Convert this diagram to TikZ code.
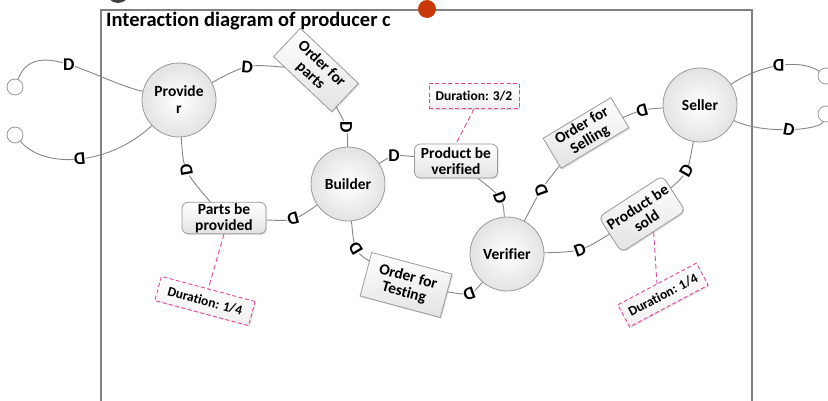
\documentclass[tikz,border=0pt]{standalone}
\usepackage{fontspec}
\setmainfont{Carlito}[Ligatures=NoCommon]
\usetikzlibrary{shadows}

\definecolor{linegray}{HTML}{858585}
\definecolor{framegray}{HTML}{808080}
\definecolor{edgegray}{HTML}{9A9A9A}
\definecolor{durpink}{HTML}{E4479A}
\definecolor{dotred}{HTML}{C83A0C}

\tikzset{
  conn/.style={draw=linegray, line width=0.9pt},
  actor/.style={circle, draw=edgegray, line width=0.8pt, inner color=white,
    outer color=gray!22, minimum size=74pt, inner sep=0pt, align=center,
    font=\fontsize{15.5}{17}\selectfont\bfseries},
  msgbox/.style={rectangle, draw=edgegray, line width=0.8pt, top color=white,
    bottom color=gray!22, inner sep=1pt, align=center,
    font=\fontsize{15.5}{16}\selectfont\bfseries,
    drop shadow={shadow xshift=1.2pt, shadow yshift=-1.2pt, opacity=0.25}},
  statebox/.style={msgbox, rounded corners=6pt},
  durbox/.style={rectangle, draw=durpink, dash pattern=on 4pt off 2.5pt, line width=0.9pt,
    top color=white, bottom color=gray!12, inner sep=1pt, minimum height=25pt,
    font=\fontsize{13.5}{14}\selectfont\bfseries,
    drop shadow={shadow xshift=1.2pt, shadow yshift=-1.2pt, opacity=0.25}},
  durlink/.style={draw=durpink, dash pattern=on 5pt off 3pt, line width=0.9pt},
  dsym/.style={fill=white, inner sep=0.2pt, font=\fontsize{18}{18}\selectfont\bfseries},
  port/.style={circle, draw=gray!80, line width=0.8pt, fill=white,
    minimum size=16pt, inner sep=0pt},
}

\begin{document}
\begin{tikzpicture}[x=1pt, y=-1pt]
\useasboundingbox (0,0) rectangle (828,401);

% mark peeking in at the upper edge
\fill[black!75] (118,-9) circle (12);

% frame and title
\draw[framegray, line width=1.1pt] (101,410) -- (101,10) -- (752,10) -- (752,410);
\node[anchor=base west, inner sep=0pt, font=\fontsize{20.5}{21}\selectfont\bfseries]
  (title) at (106,27) {Interaction diagram of producer c};
\fill[dotred] (427,9) circle (9);

% actors
\node[actor] (prov) at (179,100) {Provide\\r};
\node[actor] (bld)  at (348,184) {Builder};
\node[actor] (ver)  at (507,254) {Verifier};
\node[actor] (sel)  at (700,105) {Seller};

% messages and states
\node[msgbox, minimum width=80pt, minimum height=39pt, rotate=-43.5] (ofp) at (316,70) {Order for\\parts};
\node[statebox, minimum width=83pt, minimum height=34pt] (pbv) at (456,161) {Product be\\verified};
\node[msgbox, minimum width=79pt, minimum height=35pt, rotate=31] (ofs) at (586,133) {Order for\\Selling};
\node[statebox, minimum width=84pt, minimum height=31pt] (ppb) at (224,218) {Parts be\\provided};
\node[msgbox, minimum width=83pt, minimum height=45pt, rotate=-15] (oft) at (406,285) {Order for\\Testing};
\node[statebox, minimum width=76pt, minimum height=42pt, rotate=33] (pbs) at (642,214) {Product be\\sold};

% durations
\node[durbox, minimum width=90pt] (d32) at (474,96) {Duration: 3/2};
\node[durbox, minimum width=97pt, rotate=-15] (d14a) at (205,301) {Duration: 1/4};
\node[durbox, minimum width=89pt, rotate=28] (d14b) at (663,295) {Duration: 1/4};

% ports
\node[port] (lp1) at (15,87) {};
\node[port] (lp2) at (15,135) {};
\node[port] (rp1) at (826,76) {};
\node[port] (rp2) at (826,114) {};

% duration links
\draw[durlink] (d32.south) -- (pbv.north);
\draw[durlink] (ppb.south) -- (d14a.north);
\draw[durlink] (pbs.south) -- (d14b.north);

% external loops
\draw[conn] (prov) .. controls (95,80) and (35,35) .. node[dsym, midway, rotate=0]{D} (lp1);
\draw[conn] (prov) .. controls (110,165) and (45,170) .. node[dsym, midway, rotate=185]{D} (lp2);
\draw[conn] (sel) .. controls (760,65) and (800,58) .. node[dsym, midway, rotate=180]{D} (rp1);
\draw[conn] (sel) .. controls (765,135) and (820,130) .. node[dsym, midway, rotate=-10]{D} (rp2);

% interactions
\draw[conn] (prov) .. controls (247,64) .. node[dsym, midway, rotate=-5]{D} (ofp);
\draw[conn] (ofp) .. controls (347.5,127.5) .. node[dsym, midway, rotate=-90]{D} (bld);
\draw[conn] (bld) .. controls (393,154.5) .. node[dsym, midway, rotate=0]{D} (pbv);
\draw[conn] (pbv) .. controls (503,198) .. node[dsym, midway, rotate=-70]{D} (ver);
\draw[conn] (ver) .. controls (541,189) .. node[dsym, midway, rotate=110]{D} (ofs);
\draw[conn] (ofs) .. controls (642,109.5) .. node[dsym, midway, rotate=195]{D} (sel);
\draw[conn] (sel) .. controls (687.7,172.8) .. node[dsym, midway, rotate=60]{D} (pbs);
\draw[conn] (ver) .. controls (581,251.7) .. node[dsym, midway, rotate=20]{D} (pbs);
\draw[conn] (ver) .. controls (470.7,295.7) .. node[dsym, midway, rotate=200]{D} (oft);
\draw[conn] (bld) .. controls (354.3,251.2) .. node[dsym, midway, rotate=120]{D} (oft);
\draw[conn] (bld) .. controls (293.5,221.2) .. node[dsym, midway, rotate=195]{D} (ppb);
\draw[conn] (prov) .. controls (183.3,170.2) .. node[dsym, midway, rotate=100]{D} (ppb);
\end{tikzpicture}
\end{document}
